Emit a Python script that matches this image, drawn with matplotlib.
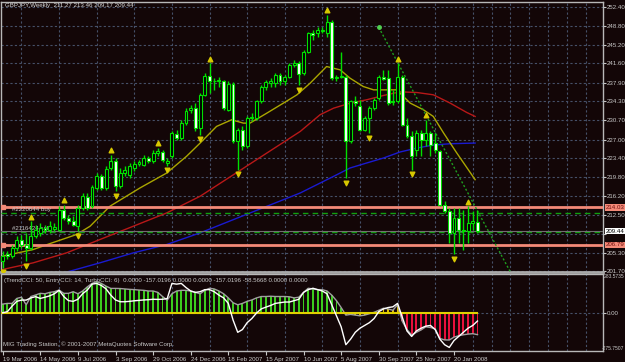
import matplotlib
matplotlib.use('Agg')  # no display
import matplotlib.pyplot as plt
import matplotlib.transforms as mtransforms
import numpy as np

plt.rcParams['font.family'] = ['Liberation Sans', 'DejaVu Sans']

# ---- data (weekly bars, 19 Mar 2006 .. 24 Feb 2008) ----
title = 'GBPJPY,Weekly  211.27 213.46 209.17 209.44'

opens = [203.68, 204.96, 204.64, 206.23, 207.83, 206.87, 206.23, 208.46, 209.10, 210.06,
         209.61, 209.87, 209.74, 213.44, 211.97, 211.33, 210.38, 213.88, 215.99, 214.20,
         217.71, 219.94, 217.71, 221.54, 222.94, 218.03, 220.58, 220.26, 221.54, 222.37,
         222.17, 223.45, 222.81, 224.41, 224.60, 222.49, 223.77, 228.10, 227.28, 230.14,
         232.70, 233.01, 229.19, 235.57, 239.20, 238.25, 238.12, 238.12, 232.70, 237.61,
         226.64, 228.87, 225.68, 231.10, 231.10, 234.29, 237.03, 237.80, 237.80, 239.39,
         238.12, 239.07, 241.30, 241.62, 239.71, 243.86, 247.36, 247.36, 247.81, 247.36,
         249.59, 238.75, 239.07, 239.07, 226.64, 234.29, 233.33, 228.87, 231.10, 233.01,
         234.93, 238.95, 238.75, 234.29, 234.29, 239.07, 229.83, 227.59, 225.04, 228.23,
         226.96, 228.23, 226.32, 224.72, 214.52, 213.25, 209.10, 211.97, 209.74, 209.42,
         211.02, 211.27]
highs = [205.59, 205.59, 206.87, 208.46, 208.78, 209.10, 211.33, 210.70, 211.02, 210.70,
         211.33, 211.02, 214.20, 214.52, 212.61, 212.29, 214.52, 216.75, 216.75, 218.35,
         220.58, 220.45, 221.86, 224.09, 223.45, 221.54, 221.86, 222.49, 222.81, 223.13,
         224.09, 223.90, 225.04, 225.36, 225.04, 223.45, 228.55, 228.87, 230.78, 233.01,
         233.65, 233.97, 235.88, 239.71, 241.62, 238.75, 238.95, 238.44, 238.12, 237.93,
         229.19, 229.50, 231.42, 232.06, 234.61, 237.48, 238.44, 238.75, 239.71, 239.84,
         239.39, 241.62, 242.26, 242.13, 244.17, 247.68, 248.00, 248.64, 248.64, 250.87,
         249.91, 239.39, 243.86, 239.39, 234.61, 235.25, 234.61, 231.42, 233.33, 234.93,
         239.39, 240.35, 240.35, 236.52, 241.62, 239.39, 231.10, 228.55, 228.87, 228.87,
         230.78, 228.55, 228.23, 225.04, 215.16, 213.88, 213.88, 213.88, 213.57, 214.20,
         213.25, 213.46]
lows = [202.41, 204.00, 204.32, 205.59, 206.23, 203.68, 205.91, 208.14, 208.46, 209.10,
        209.10, 209.42, 209.42, 211.65, 210.89, 210.38, 209.42, 213.57, 213.44, 213.88,
        217.39, 217.39, 217.39, 221.22, 217.07, 217.71, 219.94, 219.62, 220.90, 221.86,
        221.86, 222.49, 222.49, 223.77, 222.62, 221.98, 223.45, 226.96, 226.96, 229.83,
        232.06, 228.55, 227.91, 235.25, 235.88, 236.52, 237.03, 232.70, 232.38, 226.32,
        221.22, 225.04, 225.36, 230.46, 230.78, 233.97, 236.52, 237.16, 237.16, 237.48,
        237.48, 238.75, 240.99, 237.48, 239.39, 243.54, 246.09, 246.73, 247.36, 246.73,
        238.44, 238.12, 238.75, 219.62, 226.32, 233.33, 228.55, 228.55, 228.23, 232.70,
        234.61, 238.44, 233.65, 233.65, 233.97, 229.51, 227.28, 221.22, 223.77, 223.77,
        225.68, 223.77, 224.41, 214.20, 212.93, 207.19, 204.96, 207.19, 205.91, 207.19,
        209.74, 209.17]
closes = [204.64, 204.64, 206.23, 207.83, 206.87, 206.23, 208.46, 209.74, 210.06, 209.74,
          210.38, 210.25, 213.57, 211.97, 211.33, 210.70, 213.88, 216.12, 213.88, 217.90,
          219.94, 217.71, 221.35, 222.94, 218.03, 220.58, 221.22, 221.98, 222.37, 222.62,
          223.45, 222.81, 224.41, 224.72, 223.13, 222.81, 228.23, 227.28, 230.14, 232.38,
          233.01, 229.19, 235.57, 239.20, 238.12, 238.12, 238.44, 233.01, 237.67, 226.64,
          228.87, 225.68, 231.10, 231.30, 234.29, 237.03, 237.93, 238.12, 239.39, 238.12,
          238.95, 241.30, 241.75, 239.58, 243.86, 247.36, 247.04, 248.00, 248.00, 249.59,
          238.75, 239.07, 239.20, 226.64, 234.29, 233.97, 228.87, 231.10, 233.01, 234.61,
          239.07, 238.69, 233.97, 234.16, 239.07, 229.83, 227.59, 223.77, 228.23, 226.96,
          228.23, 226.00, 225.04, 214.52, 213.25, 209.10, 211.97, 209.74, 209.42, 211.02,
          211.33, 209.44]

# fractal bars (index of bar)
fractal_up = [6, 13, 23, 33, 44, 69, 84, 90, 99]
fractal_down = [0, 5, 16, 24, 35, 42, 50, 63, 73, 78, 87, 96]

# moving averages read at points (bar index, price)
ma_fast_x = [0, 6.5, 10.1, 15.7, 18.6, 22.8, 29.2, 34.9, 39.1, 42.0, 45.5, 48.7, 51.2, 52.6,
             56.2, 59.7, 62.6, 65.4, 68.9, 71.8, 73.9, 76.7, 78.9, 81.0, 83.8, 86.7, 89.5,
             91.6, 93.8, 96.6, 100.5]
ma_fast_y = [204.64, 205.91, 207.06, 208.78, 210.38, 214.20, 217.71, 220.58, 223.77, 226.32,
             229.51, 230.78, 230.14, 230.14, 232.06, 233.97, 235.57, 237.80, 240.99, 240.35,
             238.75, 237.16, 236.52, 236.52, 236.52, 233.97, 232.70, 231.42, 228.23, 224.41,
             219.30]
ma_mid_x = [0, 6.5, 13.6, 20.7, 27.8, 34.9, 42.0, 49.1, 56.2, 63.3, 67.5, 70.4, 73.9, 77.4,
            81.0, 84.5, 88.1, 91.6, 95.2, 98.7, 100.5]
ma_mid_y = [202.09, 203.36, 205.27, 207.83, 210.38, 212.93, 216.12, 220.26, 224.41, 228.55,
            231.74, 233.01, 233.97, 234.61, 235.44, 236.14, 236.01, 235.57, 233.97, 232.19,
            231.42]
ma_slow_x = [13.6, 20.7, 27.8, 34.9, 42.0, 49.1, 56.2, 63.3, 70.4, 73.9, 77.4, 81.0, 84.5,
             88.1, 91.6, 95.2, 100.5]
ma_slow_y = [201.58, 203.36, 205.27, 206.87, 209.10, 211.65, 214.20, 216.75, 219.94, 221.54,
             222.49, 223.45, 224.60, 225.36, 225.94, 226.19, 226.32]

# horizontal levels
levels = [214.03, 206.79]
buy_level, sell_level, bid = 212.85, 209.30, 209.44
trend_x = [80, 108]
trend_y = [248.5, 201.6]

price_ticks = [252.40, 248.80, 245.20, 241.60, 237.90, 234.30, 230.70, 227.00,
               223.40, 219.80, 216.20, 212.50, 208.90, 205.30, 201.70]

date_pos = [0, 8, 16, 24, 32, 40, 48, 56, 64, 72, 80, 88, 96]
date_labels = ['19 Mar 2006', '14 May 2006', '9 Jul 2006', '3 Sep 2006', '29 Oct 2006',
               '24 Dec 2006', '18 Feb 2007', '15 Apr 2007', '10 Jun 2007', '5 Aug 2007',
               '30 Sep 2007', '25 Nov 2007', '20 Jan 2008']

# CCI panel: histogram (TrendCCI) and fast line
cci_hist = [65, 70, 70, 106, 115, 60, 120, 131, 143, 140,
            150, 155, 167, 143, 143, 155, 140, 160, 190, 215,
            228, 215, 195, 179, 179, 178, 175, 172, 170, 167,
            165, 160, 160, 150, 120, 94, 140, 160, 165, 165,
            160, 150, 140, 165, 180, 175, 160, 140, 110, 75,
            60, 70, 85, 95, 110, 120, 120, 122, 120, 120,
            120, 118, 110, 115, 150, 180, 175, 170, 170, 160,
            130, 90, 40, -15, -10, -15, -20, -15, -5, 5,
            20, 35, 30, 20, 60, -60, -120, -160, -140, -123,
            -100, -105, -115, -185, -195, -196, -175, -165, -158, -153,
            -150, -157]
cci_fast = [2, 10, 50, 85, 94, 94, 110, 119, 106, 115,
            125, 140, 165, 120, 90, 85, 100, 140, 167, 210,
            215, 200, 175, 130, 95, 82, 82, 85, 89, 92,
            95, 97, 100, 99, 100, 105, 215, 210, 215, 185,
            160, 150, 155, 170, 170, 155, 130, 110, 70, -50,
            -140, -120, -70, -40, 0, 30, 43, 55, 70, 75,
            80, 80, 90, 100, 150, 170, 180, 170, 160, 140,
            60, -20, -100, -230, -190, -140, -110, -90, -70, -40,
            10, 30, 40, 45, 70, -30, -130, -170, -130, -110,
            -95, -90, -120, -190, -230, -250, -200, -170, -140, -110,
            -90, -58]
cci_label = ('(TrendCCI: 50, EntryCCI: 14, TurboCCI: 6)  0.0000 -157.0196 0.0000 0.0000 '
             '-157.0196 -58.5668 0.0000 0.0000')
cci_top, cci_bottom = 283.5735, -275.7507

BG = '#130607'
GRID = '#465068'
TXT = '#c8c8c8'
GREEN = '#00e000'
SALMON = '#f48a78'
FS = 4.4

W, H = 625, 362
fig = plt.figure(figsize=(6.25, 3.62), dpi=100)
fig.patch.set_facecolor(BG)
ax = fig.add_axes([1.5 / W, (H - 272) / H, 601.5 / W, 270 / H])
ind = fig.add_axes([1.5 / W, (H - 351) / H, 601.5 / W, 77 / H], sharex=ax)

for a in (ax, ind):
    a.set_facecolor(BG)
    for s in a.spines.values():
        s.set_color('#b8b8b8')
        s.set_linewidth(1)
    a.set_xticks(range(4, 128, 4), minor=True)
    a.grid(which='minor', axis='x', color=GRID, linestyle=(0, (2, 2)), linewidth=0.8)
    a.yaxis.tick_right()
    a.tick_params(axis='y', colors=TXT, labelsize=FS, length=2, pad=1)
    a.tick_params(axis='x', which='minor', length=0)
ax.spines['bottom'].set_linewidth(2)
ax.spines['bottom'].set_color('#a8a8a8')

x = np.arange(len(closes))
o = np.array(opens)
h = np.array(highs)
l = np.array(lows)
c = np.array(closes)

# ---- main price panel ----
ax.set_xlim(-0.25, 127.7)
ax.set_ylim(201.6, 253.36)
ax.set_yticks(price_ticks)
ax.set_yticklabels(['%.2f' % p if p != 208.90 else '' for p in price_ticks])
ax.grid(axis='y', color=GRID, linestyle=(0, (2, 2)), linewidth=0.8)
ax.tick_params(axis='x', which='both', bottom=False, labelbottom=False)

ax.plot(ma_slow_x, ma_slow_y, color='#1a1ad0', lw=1, zorder=2)
ax.plot(ma_mid_x, ma_mid_y, color='#b81818', lw=1, zorder=2)
ax.plot(ma_fast_x, ma_fast_y, color='#aaa600', lw=1, zorder=2)

for lv in levels:
    ax.axhline(lv, color=SALMON, lw=2, zorder=3)
    ax.plot([0], [lv], marker='s', ms=3, color=SALMON, zorder=4)
ax.axhline(buy_level, color='#10a010', lw=1, ls=(0, (4, 3)), zorder=3)
ax.axhline(sell_level, color='#10a010', lw=1, ls=(0, (4, 3)), zorder=3)
ax.axhline(bid, color='#707070', lw=0.8, zorder=3)
ax.text(2, buy_level + 0.2, '#2220644 buy', fontsize=FS, color=TXT, va='bottom', zorder=5)
ax.text(2, sell_level + 0.2, '#2116424 sell', fontsize=FS, color=TXT, va='bottom', zorder=5)

ax.plot(trend_x, trend_y, color='#1f9f1f', lw=1, ls=(0, (1.5, 1.5)), zorder=3)
ax.plot(trend_x[:1], trend_y[:1], marker='o', ms=2.5, color='#50d050', zorder=4)

# candles
ax.vlines(x, l, h, color=GREEN, lw=1, zorder=5)
bull = c >= o
body_lo = np.minimum(o, c)
body_h = np.maximum(np.abs(c - o), 0.15)
ax.bar(x[bull], body_h[bull], bottom=body_lo[bull], width=0.62, color='black',
       edgecolor=GREEN, linewidth=0.8, zorder=6)
ax.bar(x[~bull], body_h[~bull], bottom=body_lo[~bull], width=0.62, color='white',
       edgecolor=GREEN, linewidth=0.8, zorder=6)

# fractals
ax.scatter(fractal_up, h[fractal_up] + 0.9, marker='^', s=11, color='#d8c800', zorder=7)
ax.scatter(fractal_down, l[fractal_down] - 0.9, marker='v', s=11, color='#d8c800', zorder=7)

# right-side price boxes
tr = mtransforms.blended_transform_factory(ax.transAxes, ax.transData)
for lv in levels:
    ax.text(1.004, lv, '%.2f' % lv, transform=tr, fontsize=FS, color='#701010',
            va='center', ha='left', clip_on=False, zorder=8,
            bbox=dict(facecolor=SALMON, edgecolor='none', pad=0.6))
ax.text(1.004, bid, '%.2f' % bid, transform=tr, fontsize=FS, color='black',
        va='center', ha='left', clip_on=False, zorder=8,
        bbox=dict(facecolor='white', edgecolor='none', pad=0.6))

fig.text(5 / W, 1 - 6 / H, title, fontsize=FS, color='#d8d8d8', va='center', ha='left')

# ---- CCI panel ----
ind.set_ylim(cci_bottom, cci_top)
ind.set_yticks([0])
ind.set_yticklabels(['0.00'])
ind.grid(axis='y', color=GRID, linestyle=(0, (2, 2)), linewidth=0.8)
hist_colors = ['#3ccc1e'] * 73 + ['#e0c000'] * 12 + ['#e8103c'] * 17
ind.bar(x, cci_hist, width=0.4, color=hist_colors, zorder=3)
ind.plot(x, cci_hist, color='#a0a0a0', lw=1, zorder=4)
ind.plot(x, cci_fast, color='white', lw=1, zorder=5)
ind.plot([-0.25, x[-1]], [0, 0], color='#e0d000', lw=1.5, zorder=4)
fig.text(624 / W, 1 - 277 / H, '%.4f' % cci_top, fontsize=3.6, color=TXT,
         va='center', ha='right')
fig.text(624 / W, 1 - 349 / H, '%.4f' % cci_bottom, fontsize=3.6, color=TXT,
         va='center', ha='right')
trc = mtransforms.blended_transform_factory(ind.transAxes, ind.transAxes)
ind.text(0.004, 0.95, cci_label, transform=trc, fontsize=FS, color=TXT, va='top', ha='left')
ind.text(0.003, 0.05, 'MIG Trading Station, \u00a9 2001-2007 MetaQuotes Software Corp.',
         transform=trc, fontsize=FS, color=TXT, va='bottom', ha='left')

ind.set_xticks(date_pos)
ind.set_xticklabels(date_labels, ha='left')
ind.tick_params(axis='x', colors=TXT, labelsize=FS, length=3, pad=1)

fig.savefig('out.png', dpi=100, facecolor=BG)
